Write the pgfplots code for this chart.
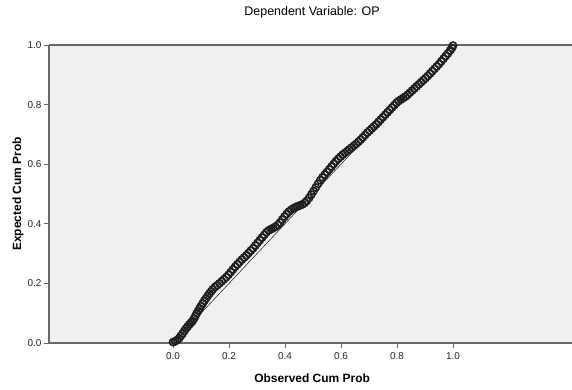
\documentclass[border=0pt]{standalone}
\usepackage{pgfplots}
\pgfplotsset{compat=1.18}
\usepackage{fontspec}
\setmainfont{Liberation Sans}
\definecolor{bgc}{HTML}{F0F0F0}
\definecolor{axc}{HTML}{686868}
\begin{document}
\begin{tikzpicture}
\path[use as bounding box] (0,0) rectangle (572bp,390bp);
\begin{axis}[
  at={(49bp,47bp)}, anchor=south west,
  scale only axis, width=523bp, height=298bp,
  xmin=-0.443, xmax=1.425, ymin=0, ymax=1,
  xtick={0,0.2,0.4,0.6,0.8,1.0},
  ytick={0,0.2,0.4,0.6,0.8,1.0},
  /pgf/number format/assume math mode=true,
  /pgf/number format/fixed, /pgf/number format/fixed zerofill, /pgf/number format/precision=1,
  tick align=outside, xtick pos=bottom, ytick pos=left,
  major tick length=5bp,
  tick style={axc, line width=0.8pt},
  axis line style={draw=none},
  axis background/.style={fill=bgc},
  ticklabel style={font=\fontsize{10}{11}\selectfont, text=black!85},
  xticklabel style={yshift=-1bp},
  yticklabel style={xshift=1bp},
  clip=false,
  title={Dependent Variable: OP},
  title style={font=\fontsize{12.5}{13}\selectfont, at={(axis description cs:0.503,1)}, anchor=south, yshift=17bp},
  xlabel={\textbf{Observed Cum Prob}},
  xlabel style={font=\fontsize{12}{13}\selectfont, at={(axis description cs:0.503,0)}, anchor=center, yshift=-35bp},
  ylabel={\textbf{Expected Cum Prob}},
  ylabel style={font=\fontsize{12}{13}\selectfont, at={(axis description cs:-0.059,0.5)}, anchor=center},
]
\draw[axc, line width=1.2pt] (rel axis cs:0,1) -- (rel axis cs:1,1);
\draw[axc, line width=1.2pt] (rel axis cs:0,0) -- (rel axis cs:1,0);
\draw[axc, line width=1.2pt] (rel axis cs:0,0) -- (rel axis cs:0,1);
\addplot[black!80, line width=0.6pt, no marks] coordinates {(0,0) (1,1)};
\addplot[only marks, mark=o, mark size=3.6bp, mark options={line width=1.6pt, draw=black!88}] table {
x y
0.000 0.003
0.008 0.006
0.015 0.010
0.022 0.016
0.028 0.024
0.034 0.032
0.040 0.040
0.046 0.048
0.052 0.055
0.058 0.062
0.064 0.068
0.070 0.074
0.075 0.082
0.080 0.091
0.085 0.100
0.090 0.108
0.095 0.116
0.100 0.124
0.106 0.133
0.112 0.142
0.118 0.150
0.124 0.158
0.130 0.166
0.136 0.173
0.142 0.180
0.150 0.188
0.158 0.194
0.166 0.200
0.174 0.207
0.182 0.214
0.190 0.221
0.198 0.229
0.206 0.238
0.214 0.247
0.222 0.256
0.230 0.264
0.238 0.272
0.246 0.280
0.254 0.287
0.262 0.294
0.270 0.302
0.278 0.310
0.286 0.318
0.294 0.327
0.302 0.336
0.310 0.345
0.318 0.354
0.326 0.363
0.334 0.372
0.342 0.378
0.350 0.382
0.358 0.386
0.366 0.390
0.374 0.396
0.382 0.404
0.390 0.414
0.398 0.424
0.406 0.433
0.414 0.441
0.422 0.447
0.430 0.452
0.438 0.456
0.446 0.459
0.454 0.462
0.462 0.465
0.470 0.470
0.478 0.477
0.486 0.487
0.494 0.498
0.502 0.510
0.510 0.522
0.518 0.534
0.526 0.546
0.534 0.556
0.542 0.565
0.550 0.574
0.558 0.583
0.566 0.592
0.574 0.601
0.582 0.610
0.590 0.618
0.598 0.625
0.606 0.632
0.614 0.638
0.622 0.644
0.630 0.650
0.638 0.656
0.646 0.662
0.654 0.668
0.662 0.675
0.670 0.682
0.678 0.690
0.686 0.698
0.694 0.706
0.702 0.713
0.710 0.720
0.718 0.727
0.726 0.734
0.734 0.742
0.742 0.750
0.750 0.758
0.758 0.766
0.766 0.774
0.774 0.782
0.782 0.790
0.790 0.798
0.798 0.806
0.806 0.812
0.814 0.817
0.822 0.822
0.830 0.827
0.838 0.833
0.846 0.840
0.854 0.847
0.862 0.854
0.870 0.861
0.878 0.868
0.886 0.875
0.894 0.882
0.902 0.889
0.910 0.896
0.918 0.904
0.926 0.912
0.934 0.920
0.942 0.928
0.950 0.936
0.958 0.945
0.966 0.954
0.974 0.963
0.982 0.972
0.990 0.982
0.996 0.990
1.000 0.998
};
\end{axis}
\end{tikzpicture}
\end{document}
